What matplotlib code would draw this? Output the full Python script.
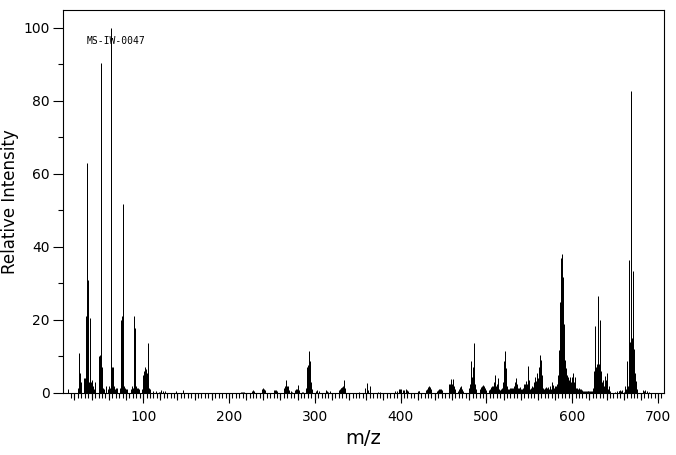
import numpy as np
import matplotlib
matplotlib.use("Agg")
import matplotlib.pyplot as plt
from matplotlib.ticker import MultipleLocator, FixedLocator, NullFormatter

# --- spectrum data (m/z, relative intensity) ---
# low mass region
low_mz = [13, 24, 25, 26, 27, 28, 31, 32, 33, 34, 35, 36, 37, 38, 39, 40, 41, 43, 44,
          48, 49, 50, 51, 52, 53, 54, 57, 59, 60, 61, 62, 63, 64, 65, 66, 67, 68, 70,
          73, 74, 75, 76, 77, 78, 79, 80, 81, 86, 87, 88, 89, 90, 91, 92, 93, 94, 95,
          99, 100, 101, 102, 103, 104, 105, 106, 107, 108, 112, 115, 118]
low_int = [1.0, 1.5, 11.0, 5.5, 3.0, 1.0, 4.0, 4.0, 21.0, 63.0, 21.0, 31.0, 3.0, 20.5, 3.0, 3.5, 2.0, 1.0, 3.0,
           9.0, 10.0, 10.5, 90.5, 7.0, 1.5, 1.0, 2.0, 1.0, 2.0, 1.5, 24.0, 100.0, 7.0, 7.0, 2.0, 1.0, 1.5, 1.5,
           1.5, 20.0, 21.0, 21.5, 51.8, 2.0, 1.5, 1.0, 1.0, 1.0, 2.0, 1.5, 21.0, 3.0, 17.8, 2.0, 1.5, 1.5, 1.0,
           1.0, 5.0, 6.0, 7.0, 6.5, 5.5, 3.0, 13.8, 1.5, 1.0, 0.5, 0.5, 0.4]

# sparse region 120 - 260
sparse_mz = [120, 121, 123, 126, 138, 147, 214, 215, 216, 217, 227, 228, 229,
             239, 240, 241, 242, 252, 253, 254, 255, 256]
sparse_int = [0.4, 0.8, 0.5, 0.5, 0.5, 0.8, 0.3, 0.4, 0.4, 0.3, 0.6, 0.7, 0.6,
              1.0, 1.3, 1.1, 0.8, 0.5, 0.8, 0.7, 0.8, 0.5]

# 260 - 380
mid_mz = [264, 265, 266, 267, 268, 269, 270, 272, 274, 277, 278, 279, 280, 281, 282, 285, 286,
          290, 291, 292, 293, 294, 295, 296, 297, 302, 303, 305, 313, 314, 316, 318,
          328, 329, 330, 331, 332, 333, 334, 335, 352, 359, 361, 362, 364, 374, 376]
mid_int = [1.5, 2.0, 2.0, 3.6, 2.0, 2.0, 0.8, 0.5, 0.4, 0.8, 1.0, 1.2, 2.2, 1.0, 0.7, 0.3, 0.3,
           1.5, 7.2, 7.6, 11.6, 7.8, 8.8, 3.0, 1.0, 0.6, 0.8, 0.6, 0.7, 0.5, 0.4, 0.6,
           0.8, 1.2, 1.5, 1.5, 1.6, 2.0, 3.6, 1.5, 0.3, 1.3, 2.7, 0.8, 2.0, 0.4, 0.4]

# 390 - 500
upper_mz = [394, 396, 398, 399, 400, 401, 403, 404, 406, 407, 409, 420, 421, 422,
            430, 431, 432, 433, 434, 435, 436, 443, 444, 445, 446, 447, 448,
            456, 457, 458, 459, 460, 461, 462, 463, 467, 468, 469, 470, 471, 472, 473,
            480, 481, 482, 483, 484, 485, 486, 487, 488, 493, 494, 495, 496, 497, 498, 499]
upper_int = [0.5, 0.6, 1.0, 1.1, 0.6, 1.2, 0.8, 0.9, 1.0, 0.7, 0.5, 0.6, 0.6, 0.6,
             0.8, 1.2, 1.7, 1.8, 1.6, 1.0, 0.6, 0.5, 0.9, 1.1, 1.2, 1.0, 0.7,
             1.5, 2.6, 2.6, 3.8, 2.6, 3.8, 2.0, 1.0, 0.6, 1.2, 1.7, 1.8, 1.5, 1.0, 0.6,
             1.5, 2.6, 8.7, 4.4, 7.0, 13.7, 9.3, 2.5, 1.0, 1.0, 1.6, 2.0, 2.2, 2.0, 1.4, 0.8]

# every unit mass from 503 to 579
dense_start = 503
dense_int = [0.8, 1.2, 1.7, 1.5, 2.0, 1.8, 3.0, 4.8, 2.0, 2.6,
             4.0, 3.2, 1.2, 0.8, 1.0, 1.5, 3.0, 3.0, 8.8, 11.5,
             6.9, 2.0, 1.2, 1.0, 1.3, 1.2, 1.4, 1.3, 1.5, 2.0,
             3.0, 4.0, 3.3, 2.5, 1.5, 1.5, 1.7, 1.2, 0.8, 1.0,
             1.5, 2.5, 2.5, 3.2, 2.6, 3.5, 7.4, 3.5, 1.2, 1.5,
             2.0, 1.6, 2.5, 3.0, 4.5, 3.2, 5.5, 4.0, 7.2, 10.4,
             3.0, 9.0, 5.0, 1.5, 1.0, 1.3, 1.7, 1.2, 1.5, 1.7,
             1.0, 1.8, 1.2, 3.0, 2.0, 2.2, 1.5]

# every unit mass from 580 to 644
cluster_start = 580
cluster_int = [2.0, 1.8, 2.5, 5.0, 3.0, 11.7, 25.0, 36.9, 38.2, 31.8,
               19.0, 10.5, 9.0, 6.8, 5.0, 4.3, 3.5, 4.5, 2.5, 3.0,
               4.5, 5.4, 3.0, 4.5, 1.5, 1.2, 1.3, 1.0, 1.3, 1.0,
               1.2, 0.8, 0.6, 0.6, 0.6, 0.6, 0.6, 0.6, 0.6, 0.6,
               0.6, 0.6, 0.6, 0.6, 1.5, 3.0, 6.0, 18.4, 7.0, 8.0,
               26.6, 8.0, 20.0, 6.0, 5.4, 3.0, 3.5, 2.0, 4.7, 3.5,
               1.5, 5.5, 1.0, 1.8, 0.6]

# molecular ion region
top_mz = [650, 652, 654, 655, 656, 657, 658, 660, 661, 662, 663, 664, 665, 666, 667,
          668, 669, 670, 671, 672, 673, 674, 675, 683, 684, 685, 687, 690]
top_int = [0.3, 0.5, 0.6, 0.6, 0.8, 0.5, 0.8, 0.4, 0.6, 1.9, 1.0, 8.8, 2.0, 36.3, 14.0,
           81.2, 82.6, 15.0, 33.4, 12.0, 5.4, 3.4, 1.2, 0.8, 0.6, 0.8, 0.5, 0.3]

dense_mz = np.arange(dense_start, dense_start + len(dense_int))
cluster_mz = np.arange(cluster_start, cluster_start + len(cluster_int))

mz = np.concatenate([low_mz, sparse_mz, mid_mz, upper_mz, dense_mz, cluster_mz, top_mz])
inten = np.concatenate([low_int, sparse_int, mid_int, upper_int, dense_int, cluster_int, top_int])

fig = plt.figure(figsize=(6.76, 4.55), dpi=100)
ax = fig.add_axes([63 / 676, 1 - 393 / 455, (664 - 63) / 676, (393 - 10) / 455])

ax.vlines(mz, 0, inten, color="black", linewidth=0.72)

ax.set_xlim(6.6, 707)
ax.set_ylim(0, 104.9)

for s in ax.spines.values():
    s.set_linewidth(0.8)

# x ticks: long every 100, short every 4, medium every 20 (secondary axis)
ax.xaxis.set_major_locator(MultipleLocator(100))
ax.xaxis.set_minor_locator(FixedLocator(np.arange(16, 705, 4)))
ax.tick_params(axis="x", which="major", length=7.5, width=0.8, pad=5, labelsize=10)
ax.tick_params(axis="x", which="minor", length=3.6, width=0.8)

sec = ax.secondary_xaxis("bottom")
sec.xaxis.set_major_locator(FixedLocator(np.arange(20, 705, 20)))
sec.xaxis.set_major_formatter(NullFormatter())
sec.tick_params(length=5.2, width=0.8)
sec.spines["bottom"].set_visible(False)

ax.yaxis.set_major_locator(MultipleLocator(20))
ax.yaxis.set_minor_locator(MultipleLocator(10))
ax.tick_params(axis="y", which="major", length=7.2, width=0.8, pad=2.5, labelsize=10)
ax.tick_params(axis="y", which="minor", length=3.6, width=0.8)

ax.set_xlabel("m/z", fontsize=14, va="center")
ax.xaxis.set_label_coords(0.5, (393 - 439) / 383)
ax.set_ylabel("Relative Intensity", fontsize=12, va="center")
ax.yaxis.set_label_coords((10 - 63) / 601, 0.5)

ax.text(34.6, 96.5, "MS-IW-0047", family="DejaVu Sans Mono", fontsize=7, va="center")

fig.savefig("out.png", dpi=100)
